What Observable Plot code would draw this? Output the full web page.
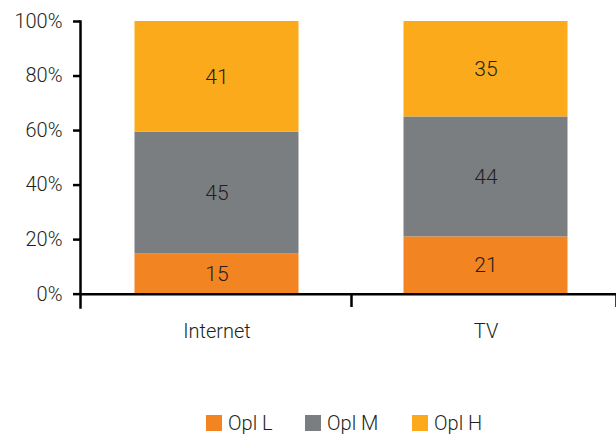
<!DOCTYPE html>
<html>
<head>
<meta charset="utf-8">
<script src="https://cdn.jsdelivr.net/npm/d3@7"></script>
<script src="https://cdn.jsdelivr.net/npm/@observablehq/plot@0.6"></script>
<style>
  html, body { margin: 0; padding: 0; background: #fff; }
  body { width: 616px; height: 435px; overflow: hidden; font-family: Roboto, sans-serif; }
  #chart svg [aria-label^="y-axis"] line,
  #chart svg [aria-label^="y-axis"] path { stroke: #000; stroke-width: 2.5px; }
  #chart svg [aria-label="frame"] { stroke: #000; stroke-width: 2.5px; }
  #legend { display: flex; align-items: center; margin-top: 63px; margin-left: 206px; height: 20px; }
  .item { display: flex; align-items: center; font-size: 20px; font-weight: 300; color: #231F20; }
  .sw { width: 16px; height: 16px; margin-right: 6px; }
</style>
</head>
<body>
<div id="chart"></div>
<div id="legend"></div>
<script>
const categories = ["Internet", "TV"];
const series = ["Opl L", "Opl M", "Opl H"];
const oplL = [15, 21];
const oplM = [45, 44];
const oplH = [41, 35];
const colors = ["#F28421", "#7B7E81", "#FAAA1A"];
const yTicks = [0, 0.2, 0.4, 0.6, 0.8, 1];
const legendWidths = [99, 107, null];

const seriesValues = [oplL, oplM, oplH];
const data = [];
categories.forEach((c, i) => {
  series.forEach((s, j) => data.push({cat: c, series: s, value: seriesValues[j][i]}));
});

const xRange = [82, 620];
const step = (xRange[1] - xRange[0]) / categories.length;
const barWidth = 164;
const inset = (step - barWidth) / 2;
const yLow = -0.049;

const plot = Plot.plot({
  width: 616,
  height: 350,
  marginLeft: 80,
  marginRight: 0,
  marginTop: 21,
  marginBottom: 43,
  style: {fontFamily: "Roboto, sans-serif", fontSize: "20px", fontWeight: 300, color: "#231F20", background: "white", overflow: "visible"},
  x: {domain: categories, range: xRange, padding: 0, label: null, tickSize: 0, tickPadding: 16},
  y: {domain: [yLow, 1], ticks: yTicks, tickFormat: d3.format(".0%"), tickSize: 7, tickPadding: 11, label: null, line: true},
  color: {domain: series, range: colors},
  marks: [
    Plot.barY(data, Plot.stackY({x: "cat", y: "value", z: "series", fill: "series", offset: "normalize", order: series, insetLeft: inset, insetRight: inset})),
    Plot.text(data, Plot.stackY({x: "cat", y: "value", z: "series", offset: "normalize", order: series, text: d => String(d.value), fill: "#231F20", fontSize: 21, fontWeight: 300})),
    Plot.ruleY([0], {stroke: "#000", strokeWidth: 2.5}),
    Plot.ruleX(categories.slice(1), {x: d => d, dx: -step / 2, y1: 0, y2: yLow, stroke: "#000", strokeWidth: 2.5}),
    Plot.ruleX(categories.slice(-1), {x: d => d, dx: step / 2 - 4, y1: 0, y2: yLow, stroke: "#000", strokeWidth: 2.5})
  ]
});
document.getElementById("chart").appendChild(plot);

const legend = document.getElementById("legend");
series.forEach((s, i) => {
  const item = document.createElement("div");
  item.className = "item";
  if (legendWidths[i]) item.style.width = legendWidths[i] + "px";
  const sw = document.createElement("span");
  sw.className = "sw";
  sw.style.background = colors[i];
  const t = document.createElement("span");
  t.textContent = s;
  item.appendChild(sw);
  item.appendChild(t);
  legend.appendChild(item);
});
</script>
</body>
</html>
